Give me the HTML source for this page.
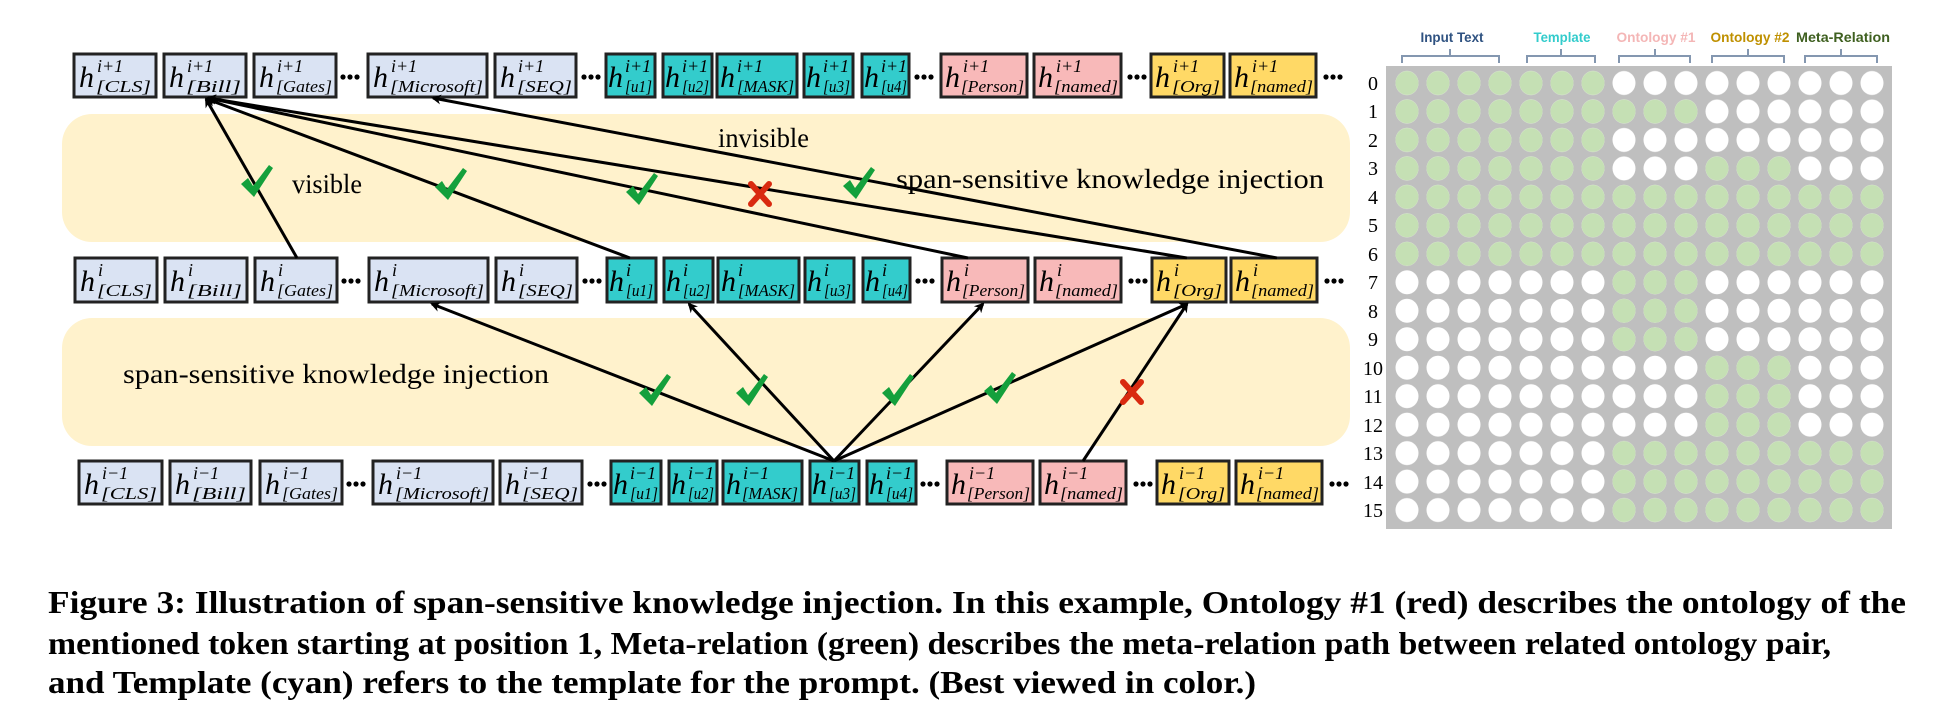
<!DOCTYPE html>
<html><head><meta charset="utf-8"><style>html,body{margin:0;padding:0;background:#fff}svg{display:block}</style></head><body>
<svg width="1960" height="726" viewBox="0 0 1960 726" xmlns="http://www.w3.org/2000/svg">
<defs>
<marker id="ah" markerWidth="10" markerHeight="10" refX="8" refY="5" orient="auto" markerUnits="userSpaceOnUse"><path d="M0,0 L10,5 L0,10 L3,5 Z" fill="#000"/></marker>
<pattern id="pw" patternUnits="userSpaceOnUse" x="1391.5" y="68.77" width="31" height="28.47"><ellipse cx="15.5" cy="14.23" rx="11.5" ry="12" fill="#fff"/></pattern>
<pattern id="pg" patternUnits="userSpaceOnUse" x="1391.5" y="68.77" width="31" height="28.47"><ellipse cx="15.5" cy="14.23" rx="11.5" ry="12" fill="#c5e0b4"/></pattern>
<g id="tk"><path d="M-16,2 L-9,-4 L-4,4 L12,-17 L16,-14 L-3,15 Z" fill="#14a03c"/></g>
<g id="xx"><path d="M-9,-10 L9,10 M9,-10 L-9,10" stroke="#d92a10" stroke-width="6" stroke-linecap="round"/></g>
<g id="dt"><circle cx="0" cy="0" r="2.6" fill="#000"/><circle cx="7" cy="0" r="2.6" fill="#000"/><circle cx="14" cy="0" r="2.6" fill="#000"/></g>
</defs>

<!-- bands -->
<rect x="62" y="114" width="1288" height="128" rx="30" fill="#fff2cc"/>
<rect x="62" y="318" width="1288" height="128" rx="30" fill="#fff2cc"/>

<g font-family="Liberation Serif, serif" font-style="italic" stroke="#222" stroke-width="3">
<!-- TOP ROW -->
<g>
<rect x="74" y="54" width="82" height="43" fill="#dae3f3"/><rect x="164" y="54" width="82" height="43" fill="#dae3f3"/><rect x="254" y="54" width="82" height="43" fill="#dae3f3"/><rect x="368" y="54" width="119" height="43" fill="#dae3f3"/><rect x="495" y="54" width="81" height="43" fill="#dae3f3"/>
<rect x="606" y="54" width="49" height="43" fill="#33cccc"/><rect x="663" y="54" width="49" height="43" fill="#33cccc"/><rect x="717" y="54" width="80" height="43" fill="#33cccc"/><rect x="804" y="54" width="49" height="43" fill="#33cccc"/><rect x="862" y="54" width="47" height="43" fill="#33cccc"/>
<rect x="941" y="54" width="86" height="43" fill="#f8b9b9"/><rect x="1034" y="54" width="87" height="43" fill="#f8b9b9"/>
<rect x="1151" y="54" width="73" height="43" fill="#ffd966"/><rect x="1230" y="54" width="86" height="43" fill="#ffd966"/>
</g>
<!-- MIDDLE ROW -->
<g>
<rect x="75" y="258" width="82" height="44" fill="#dae3f3"/><rect x="165" y="258" width="82" height="44" fill="#dae3f3"/><rect x="255" y="258" width="82" height="44" fill="#dae3f3"/><rect x="369" y="258" width="119" height="44" fill="#dae3f3"/><rect x="496" y="258" width="81" height="44" fill="#dae3f3"/>
<rect x="607" y="258" width="49" height="44" fill="#33cccc"/><rect x="664" y="258" width="49" height="44" fill="#33cccc"/><rect x="718" y="258" width="81" height="44" fill="#33cccc"/><rect x="805" y="258" width="49" height="44" fill="#33cccc"/><rect x="863" y="258" width="47" height="44" fill="#33cccc"/>
<rect x="942" y="258" width="86" height="44" fill="#f8b9b9"/><rect x="1035" y="258" width="86" height="44" fill="#f8b9b9"/>
<rect x="1152" y="258" width="74" height="44" fill="#ffd966"/><rect x="1231" y="258" width="86" height="44" fill="#ffd966"/>
</g>
<!-- BOTTOM ROW -->
<g>
<rect x="79" y="461" width="83" height="43" fill="#dae3f3"/><rect x="170" y="461" width="81" height="43" fill="#dae3f3"/><rect x="260" y="461" width="82" height="43" fill="#dae3f3"/><rect x="373" y="461" width="120" height="43" fill="#dae3f3"/><rect x="500" y="461" width="82" height="43" fill="#dae3f3"/>
<rect x="611" y="461" width="50" height="43" fill="#33cccc"/><rect x="669" y="461" width="48" height="43" fill="#33cccc"/><rect x="723" y="461" width="79" height="43" fill="#33cccc"/><rect x="810" y="461" width="49" height="43" fill="#33cccc"/><rect x="867" y="461" width="49" height="43" fill="#33cccc"/>
<rect x="947" y="461" width="86" height="43" fill="#f8b9b9"/><rect x="1040" y="461" width="86" height="43" fill="#f8b9b9"/>
<rect x="1157" y="461" width="72" height="43" fill="#ffd966"/><rect x="1236" y="461" width="86" height="43" fill="#ffd966"/>
</g>
</g>

<!-- box labels -->
<g font-family="Liberation Serif, serif" font-style="italic" fill="#000">
<!-- top -->
<g font-size="30"><text x="79" y="87">h</text><text x="169" y="87">h</text><text x="259" y="87">h</text><text x="373" y="87">h</text><text x="500" y="87">h</text><text x="608" y="87">h</text><text x="665" y="87">h</text><text x="720" y="87">h</text><text x="806" y="87">h</text><text x="864" y="87">h</text><text x="945" y="87">h</text><text x="1038" y="87">h</text><text x="1155" y="87">h</text><text x="1234" y="87">h</text></g>
<g font-size="18"><text x="97" y="72">i+1</text><text x="187" y="72">i+1</text><text x="277" y="72">i+1</text><text x="391" y="72">i+1</text><text x="518" y="72">i+1</text><text x="625" y="72">i+1</text><text x="682" y="72">i+1</text><text x="737" y="72">i+1</text><text x="823" y="72">i+1</text><text x="881" y="72">i+1</text><text x="963" y="72">i+1</text><text x="1056" y="72">i+1</text><text x="1173" y="72">i+1</text><text x="1252" y="72">i+1</text></g>
<g font-size="17"><text x="96" y="92" textLength="55" lengthAdjust="spacingAndGlyphs">[CLS]</text><text x="186" y="92" textLength="55" lengthAdjust="spacingAndGlyphs">[Bill]</text><text x="276" y="92" textLength="56" lengthAdjust="spacingAndGlyphs">[Gates]</text><text x="390" y="92" textLength="93" lengthAdjust="spacingAndGlyphs">[Microsoft]</text><text x="517" y="92" textLength="55" lengthAdjust="spacingAndGlyphs">[SEQ]</text><text x="625" y="92" textLength="27" lengthAdjust="spacingAndGlyphs">[u1]</text><text x="682" y="92" textLength="27" lengthAdjust="spacingAndGlyphs">[u2]</text><text x="737" y="92" textLength="57" lengthAdjust="spacingAndGlyphs">[MASK]</text><text x="823" y="92" textLength="27" lengthAdjust="spacingAndGlyphs">[u3]</text><text x="881" y="92" textLength="26" lengthAdjust="spacingAndGlyphs">[u4]</text><text x="961" y="92" textLength="63" lengthAdjust="spacingAndGlyphs">[Person]</text><text x="1054" y="92" textLength="64" lengthAdjust="spacingAndGlyphs">[named]</text><text x="1172" y="92" textLength="48" lengthAdjust="spacingAndGlyphs">[Org]</text><text x="1250" y="92" textLength="63" lengthAdjust="spacingAndGlyphs">[named]</text></g>
<!-- middle -->
<g font-size="30"><text x="80" y="291">h</text><text x="170" y="291">h</text><text x="260" y="291">h</text><text x="374" y="291">h</text><text x="501" y="291">h</text><text x="609" y="291">h</text><text x="666" y="291">h</text><text x="721" y="291">h</text><text x="807" y="291">h</text><text x="865" y="291">h</text><text x="946" y="291">h</text><text x="1039" y="291">h</text><text x="1156" y="291">h</text><text x="1235" y="291">h</text></g>
<g font-size="18"><text x="98" y="276">i</text><text x="188" y="276">i</text><text x="278" y="276">i</text><text x="392" y="276">i</text><text x="519" y="276">i</text><text x="626" y="276">i</text><text x="683" y="276">i</text><text x="738" y="276">i</text><text x="824" y="276">i</text><text x="882" y="276">i</text><text x="964" y="276">i</text><text x="1057" y="276">i</text><text x="1174" y="276">i</text><text x="1253" y="276">i</text></g>
<g font-size="17"><text x="97" y="296" textLength="55" lengthAdjust="spacingAndGlyphs">[CLS]</text><text x="187" y="296" textLength="55" lengthAdjust="spacingAndGlyphs">[Bill]</text><text x="277" y="296" textLength="56" lengthAdjust="spacingAndGlyphs">[Gates]</text><text x="391" y="296" textLength="93" lengthAdjust="spacingAndGlyphs">[Microsoft]</text><text x="518" y="296" textLength="55" lengthAdjust="spacingAndGlyphs">[SEQ]</text><text x="626" y="296" textLength="27" lengthAdjust="spacingAndGlyphs">[u1]</text><text x="683" y="296" textLength="27" lengthAdjust="spacingAndGlyphs">[u2]</text><text x="738" y="296" textLength="57" lengthAdjust="spacingAndGlyphs">[MASK]</text><text x="824" y="296" textLength="27" lengthAdjust="spacingAndGlyphs">[u3]</text><text x="882" y="296" textLength="26" lengthAdjust="spacingAndGlyphs">[u4]</text><text x="962" y="296" textLength="63" lengthAdjust="spacingAndGlyphs">[Person]</text><text x="1055" y="296" textLength="63" lengthAdjust="spacingAndGlyphs">[named]</text><text x="1173" y="296" textLength="49" lengthAdjust="spacingAndGlyphs">[Org]</text><text x="1251" y="296" textLength="63" lengthAdjust="spacingAndGlyphs">[named]</text></g>
<!-- bottom -->
<g font-size="30"><text x="84" y="494">h</text><text x="175" y="494">h</text><text x="265" y="494">h</text><text x="378" y="494">h</text><text x="505" y="494">h</text><text x="613" y="494">h</text><text x="671" y="494">h</text><text x="726" y="494">h</text><text x="812" y="494">h</text><text x="869" y="494">h</text><text x="951" y="494">h</text><text x="1044" y="494">h</text><text x="1161" y="494">h</text><text x="1240" y="494">h</text></g>
<g font-size="18"><text x="102" y="479">i−1</text><text x="193" y="479">i−1</text><text x="283" y="479">i−1</text><text x="396" y="479">i−1</text><text x="523" y="479">i−1</text><text x="630" y="479">i−1</text><text x="688" y="479">i−1</text><text x="743" y="479">i−1</text><text x="829" y="479">i−1</text><text x="886" y="479">i−1</text><text x="969" y="479">i−1</text><text x="1062" y="479">i−1</text><text x="1179" y="479">i−1</text><text x="1258" y="479">i−1</text></g>
<g font-size="17"><text x="101" y="499" textLength="56" lengthAdjust="spacingAndGlyphs">[CLS]</text><text x="192" y="499" textLength="54" lengthAdjust="spacingAndGlyphs">[Bill]</text><text x="282" y="499" textLength="56" lengthAdjust="spacingAndGlyphs">[Gates]</text><text x="395" y="499" textLength="94" lengthAdjust="spacingAndGlyphs">[Microsoft]</text><text x="522" y="499" textLength="56" lengthAdjust="spacingAndGlyphs">[SEQ]</text><text x="630" y="499" textLength="28" lengthAdjust="spacingAndGlyphs">[u1]</text><text x="688" y="499" textLength="26" lengthAdjust="spacingAndGlyphs">[u2]</text><text x="742" y="499" textLength="56" lengthAdjust="spacingAndGlyphs">[MASK]</text><text x="829" y="499" textLength="27" lengthAdjust="spacingAndGlyphs">[u3]</text><text x="886" y="499" textLength="27" lengthAdjust="spacingAndGlyphs">[u4]</text><text x="967" y="499" textLength="63" lengthAdjust="spacingAndGlyphs">[Person]</text><text x="1060" y="499" textLength="63" lengthAdjust="spacingAndGlyphs">[named]</text><text x="1178" y="499" textLength="47" lengthAdjust="spacingAndGlyphs">[Org]</text><text x="1256" y="499" textLength="63" lengthAdjust="spacingAndGlyphs">[named]</text></g>
</g>

<!-- dots -->
<use href="#dt" x="343" y="77"/><use href="#dt" x="584" y="77"/><use href="#dt" x="917" y="77"/><use href="#dt" x="1130" y="77"/><use href="#dt" x="1326" y="77"/>
<use href="#dt" x="344" y="281"/><use href="#dt" x="585" y="281"/><use href="#dt" x="918" y="281"/><use href="#dt" x="1131" y="281"/><use href="#dt" x="1327" y="281"/>
<use href="#dt" x="349" y="484"/><use href="#dt" x="590" y="484"/><use href="#dt" x="923" y="484"/><use href="#dt" x="1136" y="484"/><use href="#dt" x="1332" y="484"/>

<!-- connectors -->
<g stroke="#000" stroke-width="3" fill="none" marker-end="url(#ah)">
<line x1="297" y1="258" x2="206" y2="99"/>
<line x1="630" y1="258" x2="207" y2="99"/>
<line x1="968" y1="258" x2="208" y2="98"/>
<line x1="1187" y1="258" x2="208" y2="98"/>
<line x1="1277" y1="258" x2="433" y2="98"/>
<line x1="834" y1="461" x2="432" y2="304"/>
<line x1="834" y1="461" x2="689" y2="304"/>
<line x1="834" y1="461" x2="983" y2="304"/>
<line x1="834" y1="461" x2="1187" y2="304"/>
<line x1="1083" y1="461" x2="1187" y2="304"/>
</g>

<!-- marks -->
<use href="#tk" x="257" y="182"/><use href="#tk" x="451" y="185"/><use href="#tk" x="642" y="190"/><use href="#xx" x="760" y="194"/><use href="#tk" x="859" y="184"/>
<use href="#tk" x="655" y="391"/><use href="#tk" x="752" y="391"/><use href="#tk" x="898" y="391"/><use href="#tk" x="1000" y="389"/><use href="#xx" x="1132" y="392"/>

<!-- band texts -->
<g font-family="Liberation Serif, serif" font-size="27" fill="#000">
<text x="292" y="193" textLength="70" lengthAdjust="spacingAndGlyphs">visible</text>
<text x="718" y="147" textLength="91" lengthAdjust="spacingAndGlyphs">invisible</text>
<text x="896" y="188" textLength="428" lengthAdjust="spacingAndGlyphs">span-sensitive knowledge injection</text>
<text x="123" y="383" textLength="426" lengthAdjust="spacingAndGlyphs">span-sensitive knowledge injection</text>
</g>

<!-- matrix -->
<rect x="1386" y="66" width="506" height="463" fill="#bfbfbf"/>
<rect x="1391.5" y="68.77" width="496" height="455.5" fill="url(#pw)"/>
<g fill="url(#pg)">
<rect x="1391.5" y="68.77" width="217" height="199.29"/>
<rect x="1608.5" y="97.24" width="93" height="28.47"/>
<rect x="1701.5" y="154.18" width="93" height="28.47"/>
<rect x="1608.5" y="182.65" width="279" height="85.41"/>
<rect x="1608.5" y="268.06" width="93" height="85.41"/>
<rect x="1701.5" y="353.47" width="93" height="85.41"/>
<rect x="1608.5" y="438.88" width="279" height="85.41"/>
</g>
<g font-family="Liberation Serif, serif" font-size="20" fill="#000" text-anchor="middle">
<text x="1373" y="90">0</text><text x="1373" y="118">1</text><text x="1373" y="147">2</text><text x="1373" y="175">3</text><text x="1373" y="204">4</text><text x="1373" y="232">5</text><text x="1373" y="261">6</text><text x="1373" y="289">7</text><text x="1373" y="318">8</text><text x="1373" y="346">9</text><text x="1373" y="375">10</text><text x="1373" y="403">11</text><text x="1373" y="432">12</text><text x="1373" y="460">13</text><text x="1373" y="489">14</text><text x="1373" y="517">15</text>
</g>
<g font-family="Liberation Sans, sans-serif" font-size="14" font-weight="bold" text-anchor="middle">
<text x="1452" y="42" fill="#2f5281" textLength="63" lengthAdjust="spacingAndGlyphs">Input Text</text>
<text x="1562" y="42" fill="#33cccc" textLength="57" lengthAdjust="spacingAndGlyphs">Template</text>
<text x="1656" y="42" fill="#f4b6b6" textLength="79" lengthAdjust="spacingAndGlyphs">Ontology #1</text>
<text x="1750" y="42" fill="#bf9000" textLength="79" lengthAdjust="spacingAndGlyphs">Ontology #2</text>
<text x="1843" y="42" fill="#3f6020" textLength="94" lengthAdjust="spacingAndGlyphs">Meta-Relation</text>
</g>
<g stroke="#8497b0" stroke-width="2" fill="none">
<path d="M1402,63 V56 H1499 V63 M1450,56 V49"/>
<path d="M1527,63 V56 H1595 V63 M1561,56 V49"/>
<path d="M1619,63 V56 H1690 V63 M1655,56 V49"/>
<path d="M1712,63 V56 H1784 V63 M1748,56 V49"/>
<path d="M1805,63 V56 H1877 V63 M1841,56 V49"/>
</g>

<!-- caption -->
<g font-family="Liberation Serif, serif" font-size="32" font-weight="bold" fill="#000">
<text x="48" y="613" textLength="1858" lengthAdjust="spacingAndGlyphs">Figure 3: Illustration of span-sensitive knowledge injection. In this example, Ontology #1 (red) describes the ontology of the</text>
<text x="48" y="654" textLength="1783" lengthAdjust="spacingAndGlyphs">mentioned token starting at position 1, Meta-relation (green) describes the meta-relation path between related ontology pair,</text>
<text x="48" y="693" textLength="1208" lengthAdjust="spacingAndGlyphs">and Template (cyan) refers to the template for the prompt. (Best viewed in color.)</text>
</g>
</svg>
</body></html>
